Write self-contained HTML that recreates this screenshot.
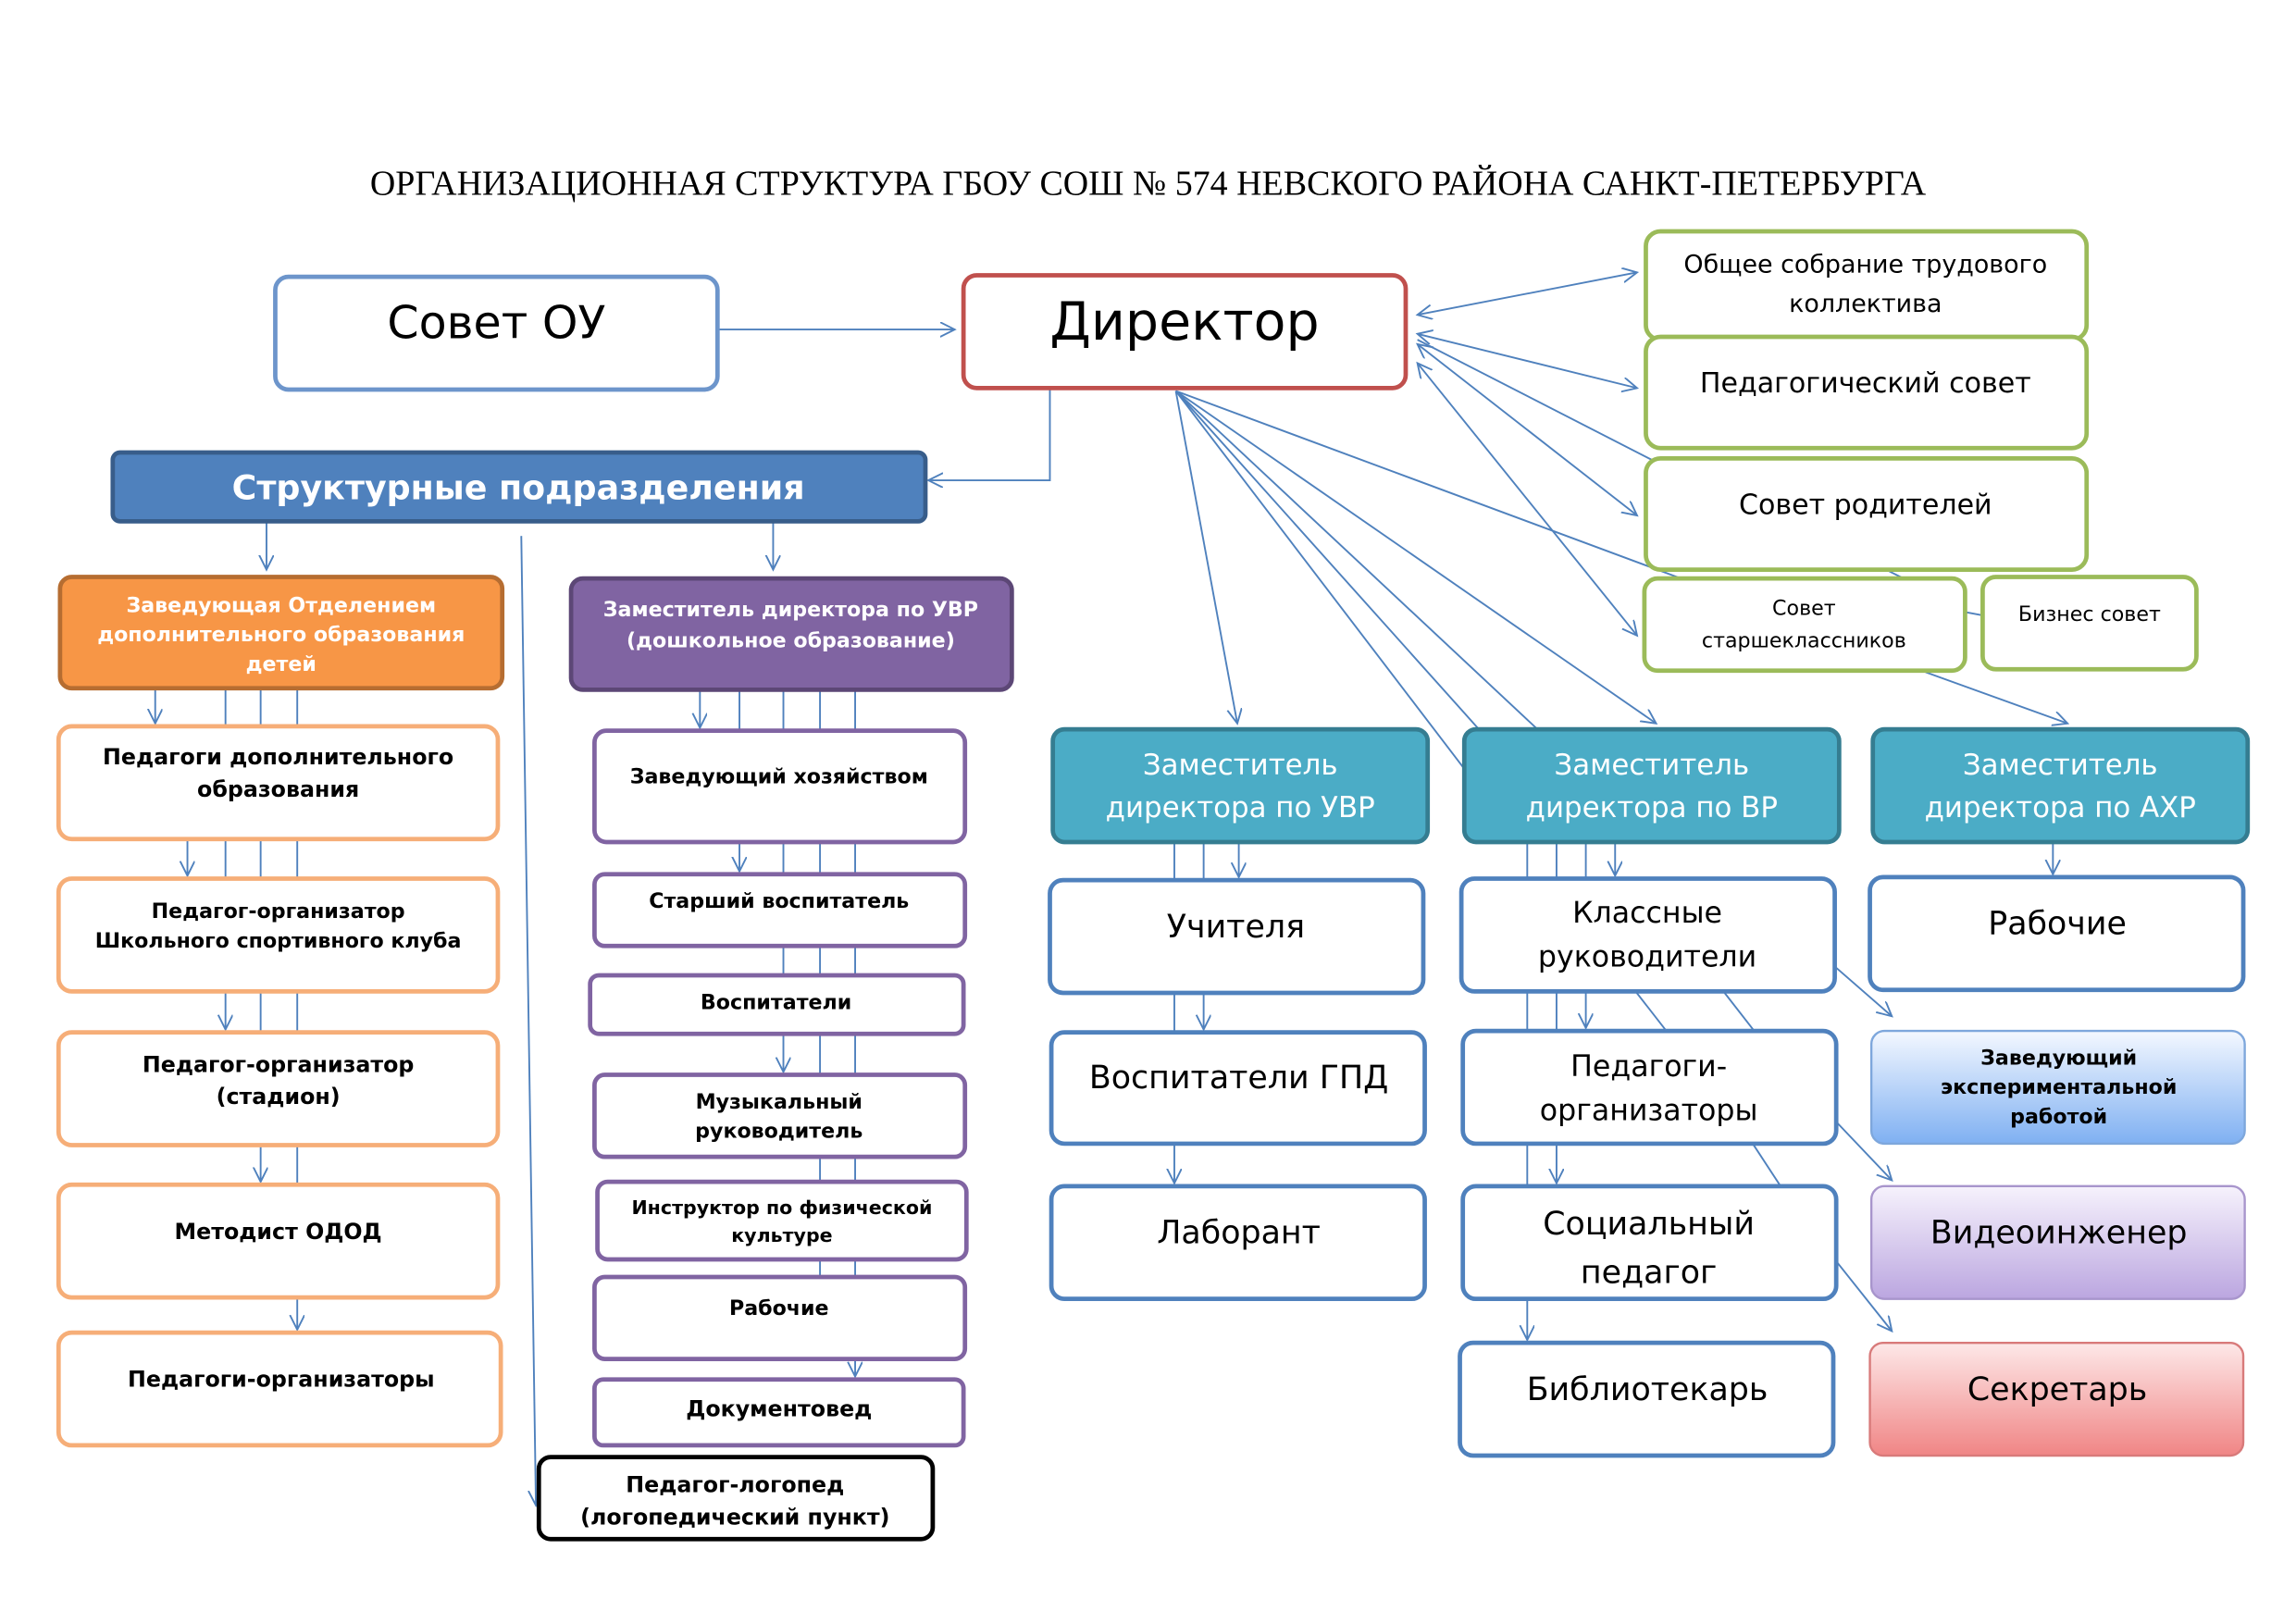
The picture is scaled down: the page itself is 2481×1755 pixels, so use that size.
<!DOCTYPE html>
<html><head><meta charset="utf-8"><style>
html,body{margin:0;padding:0;background:#fff;}
svg{display:block;}
text{font-family:"DejaVu Sans","Liberation Sans",sans-serif;text-anchor:middle;}
</style></head><body>
<svg width="2481" height="1755" viewBox="0 0 1568 1109" preserveAspectRatio="none" xmlns="http://www.w3.org/2000/svg">
<defs>
<marker id="a" markerWidth="12" markerHeight="12" refX="10" refY="5" orient="auto" markerUnits="userSpaceOnUse"><path d="M0,0 L10,5 L0,10" fill="none" stroke="#4f81bd" stroke-width="1.2"/></marker>
<marker id="s" markerWidth="12" markerHeight="12" refX="10" refY="5" orient="auto-start-reverse" markerUnits="userSpaceOnUse"><path d="M0,0 L10,5 L0,10" fill="none" stroke="#4f81bd" stroke-width="1.2"/></marker>
<linearGradient id="gb" x1="0" y1="0" x2="0" y2="1"><stop offset="0" stop-color="#f4f8ff"/><stop offset="1" stop-color="#7fb0f2"/></linearGradient>
<linearGradient id="gp" x1="0" y1="0" x2="0" y2="1"><stop offset="0" stop-color="#f6f2fc"/><stop offset="1" stop-color="#bba6e0"/></linearGradient>
<linearGradient id="gr" x1="0" y1="0" x2="0" y2="1"><stop offset="0" stop-color="#fde8e8"/><stop offset="1" stop-color="#f08585"/></linearGradient>
</defs>
<rect width="1568" height="1109" fill="#fff"/>
<text x="784" y="133" style="font-family:'Liberation Serif',serif;font-size:24px">ОРГАНИЗАЦИОННАЯ СТРУКТУРА ГБОУ СОШ № 574 НЕВСКОГО РАЙОНА САНКТ-ПЕТЕРБУРГА</text>

<g fill="none" stroke="#4f81bd" stroke-width="1.2">
<line x1="490" y1="225" x2="652" y2="225" marker-end="url(#a)"/>
<polyline points="717,265 717,328 634,328" marker-end="url(#a)"/>
<line x1="182" y1="356" x2="182" y2="389" marker-end="url(#a)"/>
<line x1="528" y1="356" x2="528" y2="389" marker-end="url(#a)"/>
<line x1="356" y1="366" x2="366" y2="1028" marker-end="url(#a)"/>
<line x1="968" y1="215" x2="1118" y2="186" marker-start="url(#s)" marker-end="url(#a)"/>
<line x1="968" y1="228" x2="1118" y2="265" marker-start="url(#s)" marker-end="url(#a)"/>
<line x1="968" y1="235" x2="1118" y2="352" marker-start="url(#s)" marker-end="url(#a)"/>
<line x1="968" y1="248" x2="1118" y2="434" marker-start="url(#s)" marker-end="url(#a)"/>
<line x1="968" y1="232" x2="1128" y2="314"/>
<line x1="803" y1="267" x2="1148" y2="395"/>
<line x1="803" y1="267" x2="845" y2="494" marker-end="url(#a)"/>
<line x1="803" y1="267" x2="1000" y2="525"/>
<line x1="803" y1="267" x2="1010" y2="498"/>
<line x1="803" y1="267" x2="1050" y2="498"/>
<line x1="803" y1="267" x2="1131" y2="494" marker-end="url(#a)"/>
<line x1="1315" y1="459" x2="1412" y2="494" marker-end="url(#a)"/>
<line x1="1342" y1="418" x2="1353" y2="420"/>
<line x1="1290" y1="390" x2="1300" y2="395"/>
<line x1="106" y1="470" x2="106" y2="494" marker-end="url(#a)"/>
<line x1="154" y1="470" x2="154" y2="496"/><line x1="178" y1="470" x2="178" y2="496"/><line x1="203" y1="470" x2="203" y2="496"/>
<line x1="128" y1="573" x2="128" y2="598" marker-end="url(#a)"/>
<line x1="154" y1="573" x2="154" y2="600"/><line x1="178" y1="573" x2="178" y2="600"/><line x1="203" y1="573" x2="203" y2="600"/>
<line x1="154" y1="677" x2="154" y2="703" marker-end="url(#a)"/>
<line x1="178" y1="677" x2="178" y2="705"/><line x1="203" y1="677" x2="203" y2="705"/>
<line x1="178" y1="782" x2="178" y2="807" marker-end="url(#a)"/>
<line x1="203" y1="782" x2="203" y2="809"/>
<line x1="203" y1="886" x2="203" y2="908" marker-end="url(#a)"/>
<line x1="478" y1="471" x2="478" y2="497" marker-end="url(#a)"/>
<line x1="505" y1="471" x2="505" y2="499"/><line x1="535" y1="471" x2="535" y2="499"/><line x1="560" y1="471" x2="560" y2="499"/><line x1="584" y1="471" x2="584" y2="499"/>
<line x1="505" y1="575" x2="505" y2="595" marker-end="url(#a)"/>
<line x1="535" y1="575" x2="535" y2="597"/><line x1="560" y1="575" x2="560" y2="597"/><line x1="584" y1="575" x2="584" y2="597"/>
<line x1="535" y1="646" x2="535" y2="666"/><line x1="560" y1="646" x2="560" y2="666"/><line x1="584" y1="646" x2="584" y2="666"/>
<line x1="535" y1="706" x2="535" y2="732" marker-end="url(#a)"/>
<line x1="560" y1="706" x2="560" y2="734"/><line x1="584" y1="706" x2="584" y2="734"/>
<line x1="560" y1="790" x2="560" y2="807"/><line x1="584" y1="790" x2="584" y2="807"/>
<line x1="560" y1="860" x2="560" y2="872"/><line x1="584" y1="860" x2="584" y2="872"/>
<line x1="584" y1="928" x2="584" y2="940" marker-end="url(#a)"/>
<line x1="802" y1="575" x2="802" y2="601"/><line x1="822" y1="575" x2="822" y2="601"/>
<line x1="846" y1="575" x2="846" y2="599" marker-end="url(#a)"/>
<line x1="802" y1="678" x2="802" y2="705"/>
<line x1="822" y1="678" x2="822" y2="703" marker-end="url(#a)"/>
<line x1="802" y1="781" x2="802" y2="808" marker-end="url(#a)"/>
<line x1="1043" y1="575" x2="1043" y2="600"/><line x1="1063" y1="575" x2="1063" y2="600"/><line x1="1083" y1="575" x2="1083" y2="600"/>
<line x1="1103" y1="575" x2="1103" y2="598" marker-end="url(#a)"/>
<line x1="1043" y1="677" x2="1043" y2="704"/><line x1="1063" y1="677" x2="1063" y2="704"/>
<line x1="1083" y1="677" x2="1083" y2="702" marker-end="url(#a)"/>
<line x1="1117" y1="677" x2="1138" y2="704"/><line x1="1177" y1="677" x2="1198" y2="704"/>
<line x1="1043" y1="781" x2="1043" y2="810"/>
<line x1="1063" y1="781" x2="1063" y2="808" marker-end="url(#a)"/>
<line x1="1197" y1="781" x2="1216" y2="810"/>
<line x1="1043" y1="887" x2="1043" y2="915" marker-end="url(#a)"/>
<line x1="1402" y1="575" x2="1402" y2="597" marker-end="url(#a)"/>
<line x1="1253" y1="660" x2="1292" y2="694" marker-end="url(#a)"/>
<line x1="1253" y1="765" x2="1292" y2="806" marker-end="url(#a)"/>
<line x1="1253" y1="860" x2="1292" y2="909" marker-end="url(#a)"/>
</g>

<g stroke-width="3">
<rect x="188" y="189" width="302" height="77" rx="9" fill="#fff" stroke="#6d95cb"/>
<rect x="658" y="188" width="302" height="77" rx="9" fill="#fff" stroke="#c0504d"/>
<g fill="#fff" stroke="#9bbb59">
<rect x="1124" y="158" width="301" height="74" rx="10"/>
<rect x="1124" y="230" width="301" height="76" rx="10"/>
<rect x="1124" y="313" width="301" height="76" rx="10"/>
<rect x="1123" y="395" width="219" height="63" rx="9"/>
<rect x="1354" y="394" width="146" height="63" rx="9"/>
</g>
<rect x="77" y="309" width="555" height="47" rx="5" fill="#4f81bd" stroke="#385d8a"/>
<rect x="41" y="394" width="302" height="76" rx="8" fill="#f79646" stroke="#b66d31"/>
<rect x="390" y="395" width="301" height="76" rx="8" fill="#8064a2" stroke="#5c4776"/>
<g fill="#fff" stroke="#f6ae78">
<rect x="40" y="496" width="300" height="77" rx="9"/>
<rect x="40" y="600" width="300" height="77" rx="9"/>
<rect x="40" y="705" width="300" height="77" rx="9"/>
<rect x="40" y="809" width="300" height="77" rx="9"/>
<rect x="40" y="910" width="302" height="77" rx="9"/>
</g>
<g fill="#fff" stroke="#8064a2">
<rect x="406" y="499" width="253" height="76" rx="8"/>
<rect x="406" y="597" width="253" height="49" rx="7"/>
<rect x="403" y="666" width="255" height="40" rx="6"/>
<rect x="406" y="734" width="253" height="56" rx="7"/>
<rect x="408" y="807" width="252" height="53" rx="7"/>
<rect x="406" y="872" width="253" height="56" rx="7"/>
<rect x="406" y="942" width="252" height="45" rx="6"/>
</g>
<rect x="368" y="995" width="269" height="56" rx="8" fill="#fff" stroke="#000"/>
<g fill="#4bacc6" stroke="#357d91">
<rect x="719" y="498" width="256" height="77" rx="8"/>
<rect x="1000" y="498" width="256" height="77" rx="8"/>
<rect x="1279" y="498" width="256" height="77" rx="8"/>
</g>
<g fill="#fff" stroke="#4f81bd">
<rect x="717" y="601" width="255" height="77" rx="9"/>
<rect x="718" y="705" width="255" height="76" rx="9"/>
<rect x="718" y="810" width="255" height="77" rx="9"/>
<rect x="998" y="600" width="255" height="77" rx="9"/>
<rect x="999" y="704" width="255" height="77" rx="9"/>
<rect x="999" y="810" width="255" height="77" rx="9"/>
<rect x="997" y="917" width="255" height="77" rx="9"/>
<rect x="1277" y="599" width="255" height="77" rx="9"/>
</g>
<rect x="1278" y="704" width="255" height="77" rx="9" fill="url(#gb)" stroke="#7ea7dc" stroke-width="1.5"/>
<rect x="1278" y="810" width="255" height="77" rx="9" fill="url(#gp)" stroke="#a895cc" stroke-width="1.5"/>
<rect x="1277" y="917" width="255" height="77" rx="9" fill="url(#gr)" stroke="#d87a7a" stroke-width="1.5"/>
</g>

<text x="339" y="231" font-size="31">Совет ОУ</text>
<text x="809" y="232" font-size="36">Директор</text>
<text x="1274" y="186" font-size="17">Общее собрание трудового</text>
<text x="1274" y="213" font-size="17">коллектива</text>
<text x="1274" y="268" font-size="19">Педагогический совет</text>
<text x="1274" y="351" font-size="19">Совет родителей</text>
<text x="1232" y="420" font-size="14">Совет</text>
<text x="1232" y="442" font-size="14">старшеклассников</text>
<text x="1427" y="424" font-size="14">Бизнес совет</text>
<text x="354" y="341" font-size="23" font-weight="bold" fill="#fff">Структурные подразделения</text>
<g font-size="14" font-weight="bold" fill="#fff">
<text x="192" y="418">Заведующая Отделением</text>
<text x="192" y="438">дополнительного образования</text>
<text x="192" y="458">детей</text>
<text x="540" y="421">Заместитель директора по УВР</text>
<text x="540" y="442">(дошкольное образование)</text>
</g>
<g font-size="15" font-weight="bold">
<text x="190" y="522">Педагоги дополнительного</text>
<text x="190" y="544">образования</text>
<text x="190" y="627" font-size="14">Педагог-организатор</text>
<text x="190" y="647" font-size="14">Школьного спортивного клуба</text>
<text x="190" y="732">Педагог-организатор</text>
<text x="190" y="754">(стадион)</text>
<text x="190" y="846">Методист ОДОД</text>
<text x="192" y="947">Педагоги-организаторы</text>
</g>
<g font-size="14" font-weight="bold">
<text x="532" y="535">Заведующий хозяйством</text>
<text x="532" y="620">Старший воспитатель</text>
<text x="530" y="689">Воспитатели</text>
<text x="532" y="757">Музыкальный</text>
<text x="532" y="777">руководитель</text>
<text x="534" y="829" font-size="13">Инструктор по физической</text>
<text x="534" y="848" font-size="13">культуре</text>
<text x="532" y="898">Рабочие</text>
<text x="532" y="967" font-size="15">Документовед</text>
<text x="502" y="1019" font-size="15">Педагог-логопед</text>
<text x="502" y="1041" font-size="15">(логопедический пункт)</text>
</g>
<g font-size="19.5" fill="#fff">
<text x="847" y="529">Заместитель</text>
<text x="847" y="558">директора по УВР</text>
<text x="1128" y="529">Заместитель</text>
<text x="1128" y="558">директора по ВР</text>
<text x="1407" y="529">Заместитель</text>
<text x="1407" y="558">директора по АХР</text>
</g>
<g font-size="22">
<text x="844" y="640">Учителя</text>
<text x="846" y="743">Воспитатели ГПД</text>
<text x="846" y="849">Лаборант</text>
<text x="1125" y="630" font-size="20">Классные</text>
<text x="1125" y="660" font-size="20">руководители</text>
<text x="1126" y="735" font-size="20">Педагоги-</text>
<text x="1126" y="765" font-size="20">организаторы</text>
<text x="1126" y="843">Социальный</text>
<text x="1126" y="876">педагог</text>
<text x="1125" y="956">Библиотекарь</text>
<text x="1405" y="638">Рабочие</text>
<text x="1406" y="849">Видеоинженер</text>
<text x="1405" y="956">Секретарь</text>
</g>
<g font-size="14" font-weight="bold">
<text x="1406" y="727">Заведующий</text>
<text x="1406" y="747">экспериментальной</text>
<text x="1406" y="767">работой</text>
</g>
</svg>
</body></html>
